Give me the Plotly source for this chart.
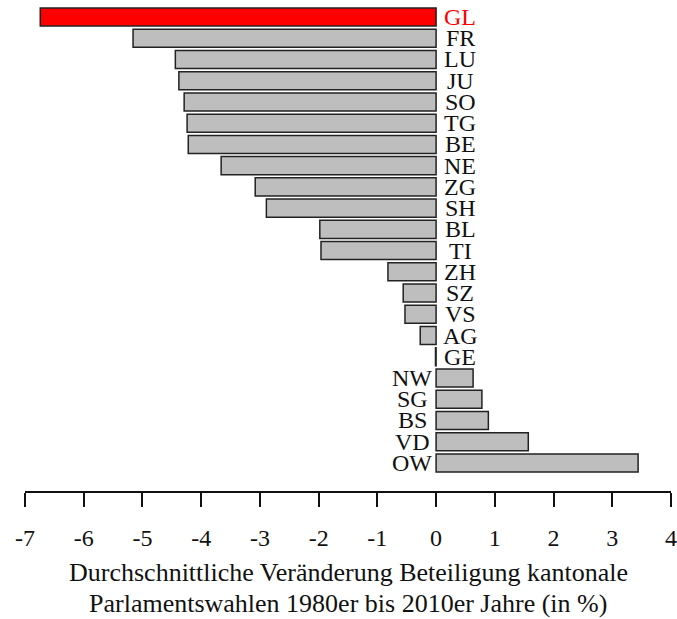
import plotly.graph_objects as go

# Cantons and average change in turnout (percentage points), top to bottom
cantons = ["GL", "FR", "LU", "JU", "SO", "TG", "BE", "NE", "ZG", "SH", "BL",
           "TI", "ZH", "SZ", "VS", "AG", "GE", "NW", "SG", "BS", "VD", "OW"]
change = [-6.74, -5.16, -4.44, -4.38, -4.29, -4.24, -4.22, -3.66, -3.08, -2.89, -1.98,
          -1.96, -0.82, -0.56, -0.53, -0.27, -0.01, 0.63, 0.78, 0.89, 1.57, 3.44]
highlight = "GL"

tick_vals = [-7, -6, -5, -4, -3, -2, -1, 0, 1, 2, 3, 4]
tick_text = ["-7", "-6", "-5", "-4", "-3", "-2", "-1", "0", "1", "2", "3", "4"]

title_lines = ["Durchschnittliche Veränderung Beteiligung kantonale",
               "Parlamentswahlen 1980er bis 2010er Jahre (in %)"]

FONT = "Liberation Serif"
W, H = 677, 619
plot_top, plot_bottom = 0, 491

positions = list(range(len(cantons)))
fills = ["#ff0000" if c == highlight else "#bebebe" for c in cantons]

fig = go.Figure(go.Bar(
    x=change, y=positions, orientation="h",
    marker=dict(color=fills, line=dict(color="#222222", width=1.5)),
    width=0.85, hoverinfo="skip",
))

# Canton labels, centred just beyond zero on the side opposite the bar
for pos, name, val in zip(positions, cantons, change):
    fig.add_annotation(
        x=0, y=pos, xref="x", yref="y", text=name, showarrow=False,
        xanchor="center", yanchor="middle",
        xshift=24 if val <= 0 else -24,
        font=dict(family=FONT, size=24, color="#ff0000" if name == highlight else "#111111"),
    )

# Two-line axis title below the tick labels
ph = plot_bottom - plot_top
for i, line in enumerate(title_lines):
    py = 572 + 31 * i
    fig.add_annotation(
        x=0.5, y=(plot_bottom - py) / ph, xref="paper", yref="paper",
        text=line, showarrow=False, xanchor="center", yanchor="middle",
        font=dict(family=FONT, size=26, color="#111111"),
    )

fig.update_layout(
    width=W, height=H,
    margin=dict(l=25, r=6, t=plot_top, b=H - plot_bottom),
    plot_bgcolor="white", paper_bgcolor="white",
    showlegend=False,
    xaxis=dict(
        range=[-7, 4], tickvals=tick_vals, ticktext=tick_text,
        showgrid=False, zeroline=False, showline=True, linecolor="#111111", linewidth=1.5,
        ticks="outside", ticklen=14, tickwidth=1.5, tickcolor="#111111",
        tickfont=dict(family=FONT, size=24, color="#111111"),
        ticklabelstandoff=10,
    ),
    yaxis=dict(
        range=[22.32, -0.80], showticklabels=False, showgrid=False,
        zeroline=False, showline=False, ticks="",
    ),
)

fig.write_html("out.html")
